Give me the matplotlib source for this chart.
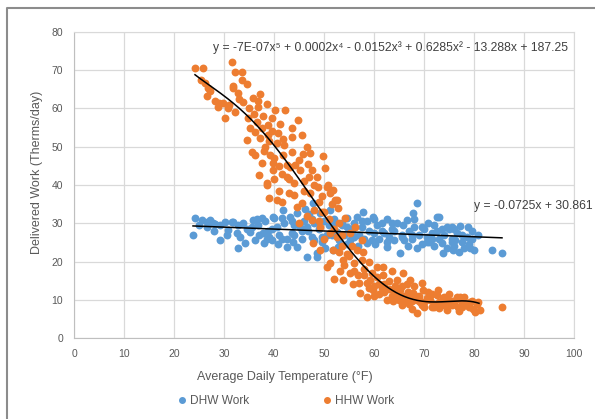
import numpy as np
import matplotlib
matplotlib.use("Agg")
import matplotlib.pyplot as plt
from matplotlib.lines import Line2D

plt.rcParams['font.family'] = ['Liberation Sans', 'DejaVu Sans']

# DHW Work (blue)
dhw_x = [24.2, 23.8, 25.6, 26.6, 27.2, 26.6, 28.2, 29.2, 29.2, 30.2, 30.8, 31.6, 31.8, 32.6, 32.8, 32.8,
         33.2, 34.2, 34.5, 33.8, 28.0, 30.5, 25.0, 27.8,
         35.8, 35.2, 36.2, 37.8, 39.8, 39.6, 41.8, 43.2, 44.6, 45.2, 42.6, 44.6, 36.8, 38.2, 38.8, 40.5,
         41.0, 42.0, 43.5, 44.0, 37.0, 39.0, 40.8, 42.5, 36.5, 41.5, 43.8, 38.0,
         47.8, 49.2, 46.6, 48.6, 51.2, 54.6, 52.8, 51.8, 48.6, 46.0, 46.8, 47.5, 48.0, 49.0, 50.0, 50.5,
         51.0, 52.0, 52.5, 53.0, 53.5, 54.0, 45.5, 47.0, 49.5, 50.2, 54.5, 46.2,
         56.6, 59.8, 62.6, 55.2, 58.6, 55.5, 56.0, 57.0, 57.5, 58.0, 58.5, 59.0, 60.0, 60.5, 61.0, 61.5,
         62.0, 62.5, 63.0, 63.5, 64.0, 64.5, 56.8, 60.2, 57.8,
         68.6, 67.8, 66.6, 72.6, 74.6, 65.2, 73.8, 65.5, 66.0, 67.0, 67.5, 68.0, 69.0, 69.5, 70.0, 70.5,
         71.0, 71.5, 72.0, 72.5, 73.0, 73.5, 74.0, 74.5, 68.5, 70.8, 66.8, 65.8,
         73.0, 77.2, 80.8, 83.6, 85.6, 75.5, 76.0, 76.5, 77.5, 78.0, 78.5, 79.0, 79.5, 80.0, 75.0, 77.0,
         78.8, 76.2, 75.6, 79.2, 75.8]
dhw_y = [31.4, 26.9, 30.8, 30.3, 30.8, 29.0, 29.8, 29.5, 25.6, 30.3, 28.2, 30.3, 30.3, 27.4, 29.5, 23.5,
         26.4, 24.8, 28.5, 30.0, 28.0, 26.8, 29.5, 30.0,
         30.8, 27.7, 25.6, 27.4, 31.6, 25.6, 33.5, 31.6, 32.7, 29.0, 23.8, 23.8, 29.5, 30.5, 28.0, 29.0,
         27.0, 30.0, 27.5, 29.5, 27.0, 26.5, 24.5, 26.0, 31.0, 31.5, 25.0, 24.8,
         35.3, 32.7, 21.2, 21.2, 33.5, 29.0, 23.8, 23.0, 22.2, 30.5, 28.0, 26.5, 30.0, 28.5, 30.5, 27.0,
         29.5, 31.0, 27.8, 25.5, 30.0, 27.0, 26.0, 32.5, 25.0, 23.5, 24.5, 33.8,
         31.6, 31.6, 23.8, 25.6, 24.8, 28.5, 30.0, 27.0, 29.0, 26.0, 30.5, 28.0, 27.5, 29.5, 26.0, 30.0,
         27.5, 31.0, 26.5, 28.5, 25.5, 30.0, 24.0, 24.5, 33.0,
         35.3, 32.7, 30.8, 31.6, 29.0, 22.2, 22.2, 27.0, 25.5, 28.0, 26.0, 29.0, 27.0, 24.5, 28.5, 26.5,
         25.0, 27.5, 24.0, 28.0, 26.0, 24.8, 27.0, 23.5, 23.5, 30.0, 24.0, 29.5,
         31.7, 29.3, 26.9, 23.0, 22.2, 26.0, 24.0, 27.5, 25.0, 23.5, 26.5, 24.5, 28.0, 23.0, 28.5, 22.5,
         29.0, 25.5, 29.0, 23.5, 23.0]
dhw_x_more = [35.5, 37.5, 39.5, 41.5, 43.5, 45.5, 47.5, 49.5, 51.5, 53.5, 55.5, 57.5, 59.5, 61.5, 63.5,
              65.5, 67.5, 69.5, 71.5, 73.5, 75.5, 77.5, 79.5, 40.0, 44.0, 48.0, 52.0, 56.0, 60.0, 64.0,
              68.0, 72.0, 76.0, 38.5, 46.5, 54.5, 62.5, 70.5]
dhw_y_more = [29.0, 31.5, 28.5, 26.0, 30.5, 28.0, 31.0, 26.5, 27.0, 29.5, 27.5, 30.5, 25.5, 28.0, 30.0,
              26.5, 27.0, 29.0, 26.0, 28.5, 25.0, 27.0, 26.0, 31.5, 27.0, 25.5, 30.0, 26.5, 31.0, 28.0,
              31.0, 29.5, 28.5, 26.0, 29.0, 31.5, 25.0, 25.0]

# HHW Work (orange)
hhw_x = [24.2, 25.8, 25.4, 26.2, 26.8, 27.2, 26.6, 28.2, 29.0, 29.8, 30.2, 28.8,
         31.6, 32.2, 33.6, 31.8, 31.8, 34.6, 32.2, 33.8, 35.8, 34.8, 34.6, 35.6, 33.0, 31.0, 32.8, 35.2, 30.8,
         37.2, 36.8, 38.6, 38.8, 36.2, 37.2, 38.8, 40.8, 40.6, 36.2, 37.6, 39.2, 41.8, 39.8, 36.5, 37.8,
         39.5, 40.2, 41.2, 38.2, 40.0, 41.5, 37.0, 38.5, 41.0, 39.0, 38.6, 39.8,
         42.6, 44.2, 43.6, 43.6, 42.2, 44.8, 45.5, 46.5, 47.2, 43.2, 45.2, 44.0, 46.0, 41.6, 40.6, 44.6,
         45.6, 47.2, 46.5, 43.0, 47.6, 47.8, 45.0, 42.5, 46.8, 48.0,
         48.8, 50.6, 50.8, 51.2, 52.2, 52.8, 49.2, 51.2, 52.6, 49.2, 51.2, 53.8, 50.6, 49.5, 50.0, 51.8,
         53.0, 52.0, 53.5, 49.0, 48.5, 50.2, 49.8, 53.2, 51.8, 52.6,
         55.2, 56.6, 57.8, 53.8, 55.2, 57.2, 59.2, 59.8, 58.6, 60.6, 61.8, 61.8, 54.5, 56.0, 58.0, 55.8,
         57.5, 56.2, 54.2, 59.0, 60.0, 61.0, 58.5, 56.8, 60.5, 62.0,
         64.6, 67.2, 65.2, 67.8, 69.8, 65.8, 68.6, 68.6, 64.6, 69.2, 63.0, 63.5, 66.0, 66.5, 67.0, 68.0,
         69.0, 70.0, 63.8, 65.5, 67.5, 69.5, 62.5, 66.8, 64.2,
         71.2, 72.6, 73.8, 70.5, 71.5, 72.0, 73.0, 74.0, 74.8, 75.5, 76.0, 76.8, 77.5, 78.0, 78.6, 79.2,
         79.8, 80.5, 80.8, 72.8, 75.0, 77.0, 70.8, 74.5, 76.5, 85.6, 80.2, 77.2, 81.2]
hhw_y = [70.6, 70.6, 67.5, 66.7, 65.4, 64.5, 63.3, 62.0, 61.4, 61.4, 57.5, 60.5,
         72.2, 69.5, 69.5, 66.0, 65.4, 66.4, 59.0, 61.7, 62.7, 57.5, 51.8, 48.6, 62.5, 61.0, 64.0, 55.0, 60.0,
         63.8, 60.4, 61.2, 55.7, 53.9, 52.3, 53.0, 53.6, 51.0, 47.8, 45.8, 47.8, 47.8, 44.0, 56.5, 58.0,
         57.5, 59.5, 56.0, 50.0, 41.5, 43.0, 42.5, 40.0, 38.5, 36.5, 40.5, 45.7,
         45.2, 45.2, 48.6, 52.5, 59.6, 57.0, 53.0, 50.0, 48.4, 44.7, 43.9, 40.5, 41.0, 35.6, 36.0, 34.2,
         35.3, 37.9, 32.0, 38.0, 30.8, 24.8, 30.0, 42.0, 45.5, 40.0,
         39.5, 39.5, 40.0, 38.0, 36.0, 34.0, 29.0, 27.5, 26.4, 23.0, 19.6, 20.4, 18.6, 33.0, 26.0, 23.0,
         30.0, 15.5, 24.0, 35.5, 42.0, 44.5, 47.5, 17.5, 38.7, 36.1,
         27.5, 23.0, 22.5, 15.2, 17.0, 11.8, 15.2, 12.5, 14.4, 16.0, 16.5, 18.6, 22.0, 19.5, 18.0, 14.0,
         25.5, 29.0, 31.5, 20.0, 13.5, 11.5, 10.8, 16.5, 18.5, 14.0,
         15.2, 15.2, 12.5, 11.8, 12.5, 17.0, 9.9, 6.5, 10.7, 9.4, 12.8, 17.5, 9.5, 14.0, 10.5, 13.5,
         11.0, 8.0, 9.8, 8.5, 7.5, 14.5, 10.0, 12.0, 13.5,
         9.9, 11.2, 10.5, 10.5, 8.2, 9.0, 7.8, 9.0, 10.0, 8.5, 9.8, 8.0, 9.5, 10.8, 8.5, 9.3,
         7.5, 8.8, 9.5, 12.5, 11.5, 7.0, 12.0, 7.2, 10.8, 8.1, 6.8, 10.7, 7.3]
hhw_x_more = [35.0, 36.0, 37.5, 38.0, 39.0, 40.0, 41.0, 42.0, 43.0, 44.0, 45.0, 46.0, 47.0, 48.0, 49.0,
              50.0, 51.0, 52.0, 53.0, 54.0, 55.0, 56.0, 57.0, 58.0, 59.0, 60.0, 61.0, 62.0, 63.0, 64.0,
              65.0, 66.0, 67.0, 68.0, 69.0, 70.0, 71.0, 72.0, 73.0, 74.0, 75.0, 76.0, 77.0, 78.0, 79.0,
              33.5, 36.8, 39.5, 41.8, 43.5, 45.8, 47.5, 49.5, 51.5, 53.5, 55.5, 57.5, 59.5, 61.5, 63.5,
              65.5, 67.5, 69.5, 71.5, 73.5, 75.5, 77.5, 79.5]
hhw_y_more = [60.0, 58.5, 55.0, 49.0, 51.5, 47.0, 45.0, 50.5, 41.5, 37.5, 46.5, 38.5, 42.0, 33.5, 30.5,
              33.0, 31.0, 28.5, 22.5, 19.0, 21.5, 17.5, 14.5, 16.5, 13.0, 11.0, 14.0, 12.0, 14.8, 12.2,
              10.0, 11.0, 9.0, 11.2, 10.0, 9.5, 10.8, 8.0, 9.5, 10.8, 9.2, 8.8, 10.2, 9.0, 8.0,
              67.5, 62.0, 54.0, 52.0, 55.0, 48.0, 44.0, 37.0, 35.0, 27.0, 24.0, 20.5, 17.0, 13.0, 11.0,
              13.5, 9.8, 8.5, 11.5, 8.5, 9.8, 8.2, 9.8]

x_ticks = list(range(0, 101, 10))
y_ticks = list(range(0, 81, 10))

dx = np.array(dhw_x + dhw_x_more)
dy = np.array(dhw_y + dhw_y_more)
hx = np.array(hhw_x + hhw_x_more)
hy = np.array(hhw_y + hhw_y_more)

blue = "#5B9BD5"
orange = "#ED7D31"
grey_text = "#595959"

fig = plt.figure(figsize=(5.95, 4.19), dpi=100)
ax = fig.add_axes([74 / 595, 81 / 419, 500 / 595, 306 / 419])

ax.scatter(dx, dy, s=32, color=blue, zorder=3, linewidths=0)
ax.scatter(hx, hy, s=32, color=orange, zorder=3, linewidths=0)

# trendlines fitted to the data, as Excel does
lin = np.polyfit(dx, dy, 1)
xl = np.linspace(dx.min(), dx.max(), 100)
ax.plot(xl, np.polyval(lin, xl), color="black", lw=1.1, zorder=4)

poly = np.polyfit(hx, hy, 5)
xp = np.linspace(hx.min(), 81, 200)
ax.plot(xp, np.polyval(poly, xp), color="black", lw=1.1, zorder=4)

ax.text(27.8, 75.8, "y = -7E-07x\u2075 + 0.0002x\u2074 - 0.0152x\u00b3 + 0.6285x\u00b2 - 13.288x + 187.25",
        fontsize=8.7, color="#404040", va="center", ha="left", clip_on=False)
ax.text(80, 34.5, "y = -0.0725x + 30.861", fontsize=8.7, color="#404040",
        va="center", ha="left", clip_on=False)

ax.set_xlim(0, 100)
ax.set_ylim(0, 80)
ax.set_xticks(x_ticks)
ax.set_yticks(y_ticks)
ax.grid(True, color="#d9d9d9", lw=0.9)
ax.set_axisbelow(True)
for sp in ax.spines.values():
    sp.set_color("#d9d9d9")
ax.spines["left"].set_color("#bfbfbf")
ax.spines["bottom"].set_color("#bfbfbf")
ax.tick_params(length=0, labelsize=7.5, colors=grey_text, pad=8)

fig.text(285 / 595, 1 - 377 / 419, "Average Daily Temperature (\u00b0F)", ha="center", va="center",
         fontsize=9, color=grey_text)
fig.text(37 / 595, 1 - 172 / 419, "Delivered Work (Therms/day)", ha="center", va="center",
         rotation=90, fontsize=9, color=grey_text)

handles = [Line2D([], [], marker="o", ls="", color=blue, markersize=4, label="DHW Work"),
           Line2D([], [], marker="o", ls="", color=orange, markersize=4, label="HHW Work")]
fig.legend(handles=handles, loc="center", bbox_to_anchor=(285 / 595, 1 - 401 / 419), ncol=2,
           frameon=False, fontsize=8.6, labelcolor=grey_text, columnspacing=6.0, handletextpad=0.2,
           handlelength=1.0)

# chart area border (left and top visible)
fig.add_artist(Line2D([7 / 595, 7 / 595, 1], [0, 1 - 8 / 419, 1 - 8 / 419],
                      transform=fig.transFigure, color="#8c8c8c", lw=1.5))

fig.savefig("out.png", dpi=100)
